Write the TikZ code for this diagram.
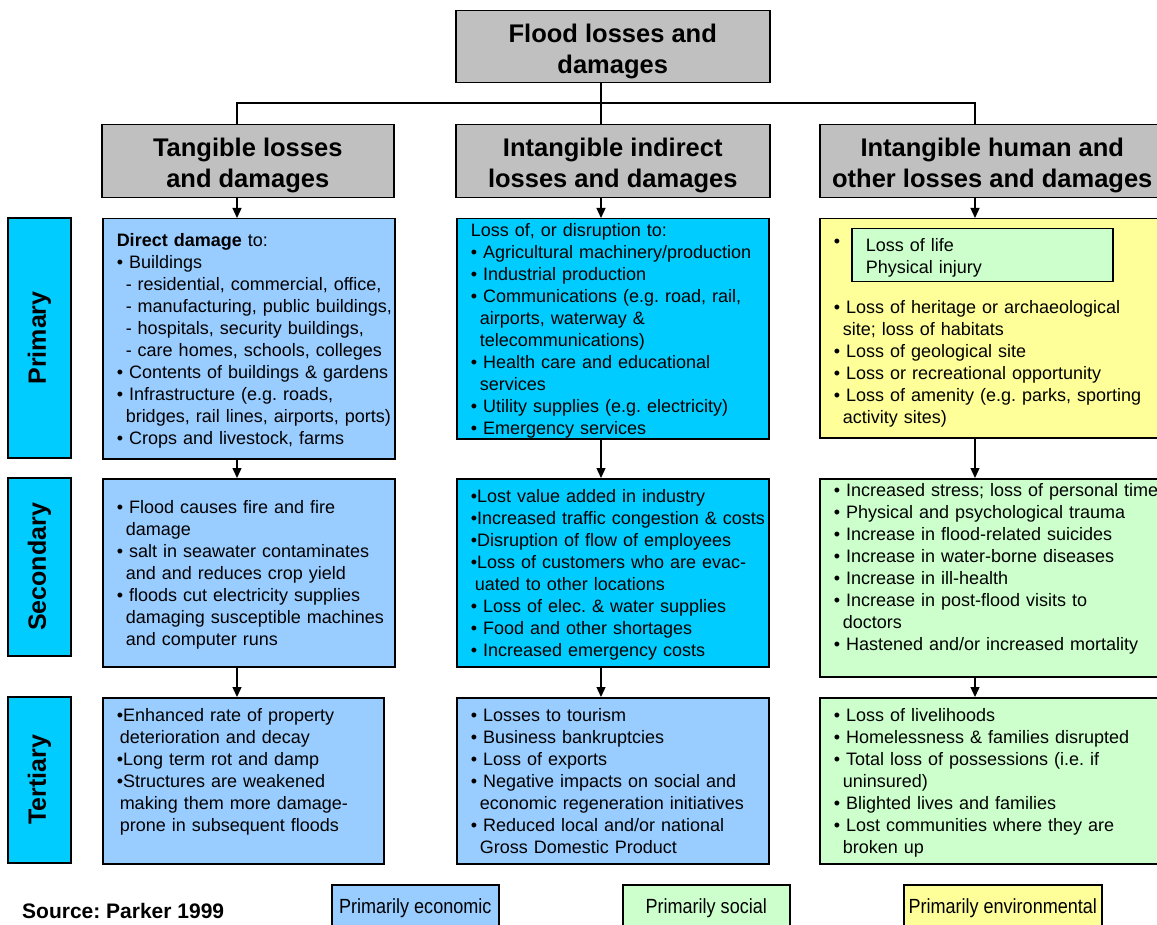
\documentclass[tikz,border=0pt]{standalone}
\usepackage{fontspec}
\setmainfont{Liberation Sans}
\usetikzlibrary{positioning, arrows.meta}

\definecolor{hdgray}{HTML}{C0C0C0}
\definecolor{econblue}{HTML}{99CCFF}
\definecolor{rowcyan}{HTML}{00CCFF}
\definecolor{envyellow}{HTML}{FFFF99}
\definecolor{socgreen}{HTML}{CCFFCC}

\newcommand{\bl}{\textbullet\ }
\newcommand{\cont}{\hspace*{9pt}}
\newcommand{\hdlift}{\rule{0pt}{27.5pt}}
\newcommand{\rows}[1]{\raisebox{-2.5pt}[\height][\depth]{\begin{tabular}{@{}l@{}}#1\end{tabular}}}
\frenchspacing

\begin{document}
\begin{tikzpicture}[
    x=1pt, y=-1pt,
    box/.style={draw, line width=1.5pt, anchor=north west, inner sep=0pt},
    head/.style n args={2}{box, fill=hdgray, minimum width=#1pt, minimum height=#2pt, align=center, font=\fontsize{25.5}{31}\selectfont\bfseries},
    cell/.style n args={3}{box, fill=#1, inner xsep=14pt, text width=#2pt-28pt, minimum height=#3pt, align=left, font=\fontsize{18}{22}\selectfont},
    tier/.style={draw, line width=1.5pt, fill=rowcyan, rotate=90, inner sep=0pt, minimum height=63pt, font=\fontsize{25}{30}\selectfont\bfseries},
    key/.style n args={2}{box, fill=#1, minimum width=#2pt, minimum height=46pt, font=\fontsize{20.5}{24}\selectfont},
    link/.style={line width=1.3pt},
    arr/.style={->, line width=1.3pt, >={Triangle[length=10pt,width=9pt]}}
]
    \fill[white] (0,0) rectangle (1157,925);
    \useasboundingbox (0,0) rectangle (1157,925);
    \clip (0,0) rectangle (1157,925);

    \node[head={314}{72}] (top) at (455,10) {\hdlift Flood losses and\\damages};
    \node[head={292}{73}] (hdL) at (101,124) {\hdlift Tangible losses\\and damages};
    \node[head={314}{73}] (hdM) at (455,124) {\hdlift Intangible indirect\\losses and damages};
    \node[head={345}{73}] (hdR) at (819,124) {\hdlift Intangible human and\\other losses and damages};

    \node[tier, minimum width=240pt] (rPri) at (39.5,338) {Primary};
    \node[tier, minimum width=178pt] (rSec) at (39.5,567) {Secondary};
    \node[tier, minimum width=166pt] (rTer) at (39.5,780) {Tertiary};

    \node[cell={econblue}{292}{240}] (pL) at (102,218) {\rows{
        \textbf{Direct damage} to:\\
        \bl Buildings\\
        \cont- residential, commercial, office,\\
        \cont- manufacturing, public buildings,\\
        \cont- hospitals, security buildings,\\
        \cont- care homes, schools, colleges\\
        \bl Contents of buildings \& gardens\\
        \bl Infrastructure (e.g. roads,\\
        \cont bridges, rail lines, airports, ports)\\
        \bl Crops and livestock, farms}};
    \node[cell={rowcyan}{312}{219}] (pM) at (456,218) {\rows{
        Loss of, or disruption to:\\
        \bl Agricultural machinery/production\\
        \bl Industrial production\\
        \bl Communications (e.g. road, rail,\\
        \cont airports, waterway \&\\
        \cont telecommunications)\\
        \bl Health care and educational\\
        \cont services\\
        \bl Utility supplies (e.g. electricity)\\
        \bl Emergency services}};
    \node[cell={envyellow}{345}{219}] (pR) at (819,218) {\rows{
        \textbullet\\ \mbox{}\\ \mbox{}\\
        \bl Loss of heritage or archaeological\\
        \cont site; loss of habitats\\
        \bl Loss of geological site\\
        \bl Loss or recreational opportunity\\
        \bl Loss of amenity (e.g. parks, sporting\\
        \cont activity sites)}};
    \node[cell={socgreen}{261}{53}] (life) at (851,228) {\rows{
        Loss of life\\
        Physical injury}};

    \node[cell={econblue}{292}{188}] (sL) at (102,478) {\rows{
        \bl Flood causes fire and fire\\
        \cont damage\\
        \bl salt in seawater contaminates\\
        \cont and and reduces crop yield\\
        \bl floods cut electricity supplies\\
        \cont damaging susceptible machines\\
        \cont and computer runs}};
    \node[cell={rowcyan}{312}{188}] (sM) at (456,478) {\rows{
        \textbullet Lost value added in industry\\
        \textbullet Increased traffic congestion \& costs\\
        \textbullet Disruption of flow of employees\\
        \textbullet Loss of customers who are evac-\\
        \hspace*{4pt}uated to other locations\\
        \bl Loss of elec. \& water supplies\\
        \bl Food and other shortages\\
        \bl Increased emergency costs}};
    \node[cell={socgreen}{345}{198}] (sR) at (819,478) {\rows{
        \bl Increased stress; loss of personal time\\
        \bl Physical and psychological trauma\\
        \bl Increase in flood-related suicides\\
        \bl Increase in water-borne diseases\\
        \bl Increase in ill-health\\
        \bl Increase in post-flood visits to\\
        \cont doctors\\
        \bl Hastened and/or increased mortality\\
        \mbox{}}};

    \node[cell={econblue}{281}{166}] (tL) at (102,697) {\rows{
        \textbullet Enhanced rate of property\\
        \hspace*{3pt}deterioration and decay\\
        \textbullet Long term rot and damp\\
        \textbullet Structures are weakened\\
        \hspace*{3pt}making them more damage-\\
        \hspace*{3pt}prone in subsequent floods\\
        \mbox{}}};
    \node[cell={econblue}{312}{166}] (tM) at (456,697) {\rows{
        \bl Losses to tourism\\
        \bl Business bankruptcies\\
        \bl Loss of exports\\
        \bl Negative impacts on social and\\
        \cont economic regeneration initiatives\\
        \bl Reduced local and/or national\\
        \cont Gross Domestic Product}};
    \node[cell={socgreen}{345}{166}] (tR) at (819,697) {\rows{
        \bl Loss of livelihoods\\
        \bl Homelessness \& families disrupted\\
        \bl Total loss of possessions (i.e. if\\
        \cont uninsured)\\
        \bl Blighted lives and families\\
        \bl Lost communities where they are\\
        \cont broken up}};

    \node[anchor=west, inner sep=0pt, font=\fontsize{21}{25}\selectfont\bfseries] (src) at (22,911) {Source: Parker 1999};
    \node[key={econblue}{167}] (keyEcon) at (331,884) {\scalebox{0.88}[1]{Primarily economic}};
    \node[key={socgreen}{167}] (keySoc) at (622,884) {\scalebox{0.88}[1]{Primarily social}};
    \node[key={envyellow}{198}] (keyEnv) at (903,884) {\scalebox{0.88}[1]{Primarily environmental}};

    \coordinate (cL) at (237,0);
    \coordinate (cM) at (601,0);
    \coordinate (cR) at (975,0);

    \draw[link] (top.south -| cM) -- (hdM.north -| cM);
    \draw[link] (hdL.north -| cL) -- ++(0,-21) -| (hdR.north -| cR);

    \draw[arr] (hdL.south -| cL) -- (pL.north -| cL);
    \draw[arr] (pL.south -| cL) -- (sL.north -| cL);
    \draw[arr] (sL.south -| cL) -- (tL.north -| cL);
    \draw[arr] (hdM.south -| cM) -- (pM.north -| cM);
    \draw[arr] (pM.south -| cM) -- (sM.north -| cM);
    \draw[arr] (sM.south -| cM) -- (tM.north -| cM);
    \draw[arr] (hdR.south -| cR) -- (pR.north -| cR);
    \draw[arr] (pR.south -| cR) -- (sR.north -| cR);
    \draw[arr] (sR.south -| cR) -- (tR.north -| cR);
\end{tikzpicture}
\end{document}
